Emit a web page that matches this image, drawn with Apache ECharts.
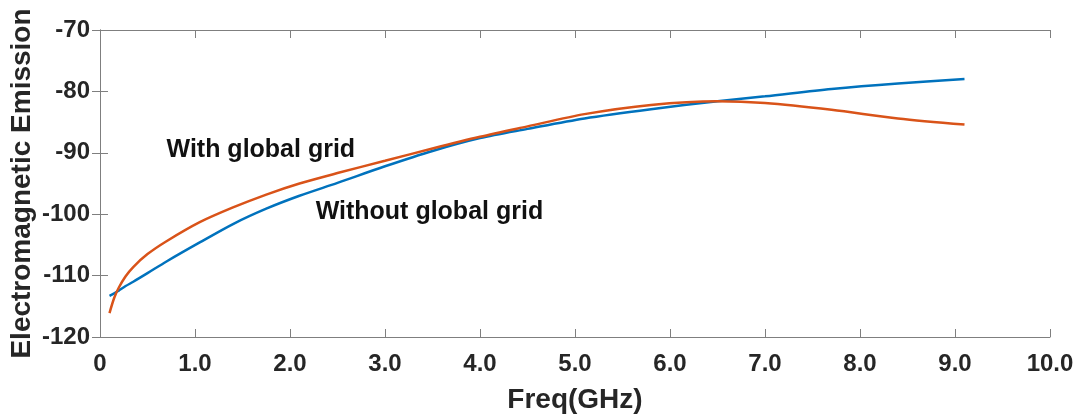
<!DOCTYPE html>
<html>
<head>
<meta charset="utf-8">
<script src="https://cdn.jsdelivr.net/npm/echarts@6/dist/echarts.min.js"></script>
<style>
  html, body { margin: 0; padding: 0; background: #fff; }
  #chart { width: 1079px; height: 415px; }
</style>
</head>
<body>
<div id="chart"></div>
<script>
// frequency points (GHz)
const freq = [0.1, 0.15, 0.2, 0.27, 0.35, 0.5, 0.7, 1.05, 1.4, 1.75, 2.1, 2.5, 3.0, 3.5, 4.0, 4.5, 5.1, 5.8, 6.5, 7.0, 7.7, 8.4, 9.1];
// without global grid (blue)
const withoutGrid = [-113.3, -112.9, -112.4, -111.7, -111.0, -109.6, -107.7, -104.6, -101.6, -99.1, -97.0, -94.9, -92.2, -89.7, -87.6, -86.1, -84.4, -82.9, -81.6, -80.8, -79.6, -78.7, -78.0];
// with global grid (orange)
const withGrid = [-116.1, -113.6, -111.9, -110.1, -108.6, -106.5, -104.4, -101.3, -98.9, -96.8, -95.0, -93.3, -91.3, -89.3, -87.4, -85.7, -83.7, -82.2, -81.6, -81.9, -83.0, -84.4, -85.4];

const xTicks = { min: 0, max: 10, interval: 1 };
const yTicks = { min: -120, max: -70, interval: 10 };

const zip = (xs, ys) => xs.map((x, i) => [x, ys[i]]);

const chart = echarts.init(document.getElementById("chart"));
const axisColor = "#7f7f7f";
const textColor = "#262626";
const font = "Liberation Sans, Arial, sans-serif";

const option = {
  animation: false,
  grid: { left: 100, right: 29, top: 30, bottom: 78, outerBoundsMode: "none", containLabel: false },
  xAxis: [
    {
      type: "value",
      min: xTicks.min, max: xTicks.max, interval: xTicks.interval,
      name: "Freq(GHz)",
      nameLocation: "middle",
      nameGap: 49,
      nameMoveOverlap: false,
      nameTextStyle: { fontFamily: font, fontWeight: "bold", fontSize: 28, color: textColor },
      axisLine: { lineStyle: { color: axisColor, width: 1 } },
      axisTick: { inside: true, length: 8, lineStyle: { color: axisColor } },
      axisLabel: {
        margin: 15, fontFamily: font, fontWeight: "bold", fontSize: 24, color: textColor,
        formatter: (v) => (v === 0 ? "0" : v.toFixed(1)),
      },
      splitLine: { show: false },
    },
    {
      type: "value", position: "top",
      min: xTicks.min, max: xTicks.max, interval: xTicks.interval,
      axisLine: { show: true, lineStyle: { color: axisColor, width: 1 } },
      axisTick: { inside: true, length: 8, lineStyle: { color: axisColor } },
      axisLabel: { show: false },
      splitLine: { show: false },
    },
  ],
  yAxis: [
    {
      type: "value",
      min: yTicks.min, max: yTicks.max, interval: yTicks.interval,
      name: "Electromagnetic Emission",
      nameLocation: "middle",
      nameGap: 64,
      nameMoveOverlap: false,
      nameTextStyle: { fontFamily: font, fontWeight: "bold", fontSize: 28, color: textColor },
      axisLine: { show: true, lineStyle: { color: axisColor, width: 1 } },
      axisTick: { show: true, inside: true, length: 8, lineStyle: { color: axisColor } },
      axisLabel: { margin: 10, fontFamily: font, fontWeight: "bold", fontSize: 24, color: textColor },
      splitLine: { show: false },
    },
    {
      type: "value", position: "right",
      min: yTicks.min, max: yTicks.max, interval: yTicks.interval,
      axisLine: { show: true, lineStyle: { color: axisColor, width: 1 } },
      axisTick: { show: true, inside: true, length: 8, lineStyle: { color: axisColor } },
      axisLabel: { show: false },
      splitLine: { show: false },
    },
  ],
  series: [
    {
      name: "Without global grid",
      type: "line",
      data: zip(freq, withoutGrid),
      smooth: 0.3,
      showSymbol: false,
      lineStyle: { color: "#0072bd", width: 2.5 },
      z: 3,
      markPoint: {
        symbol: "circle", symbolSize: 0,
        label: {
          show: true, position: "right", distance: 0,
          formatter: "Without global grid",
          fontFamily: font, fontWeight: "bold", fontSize: 25, color: "#111",
        },
        data: [{ coord: [2.27, -99.6] }],
      },
    },
    {
      name: "With global grid",
      type: "line",
      data: zip(freq, withGrid),
      smooth: 0.3,
      showSymbol: false,
      lineStyle: { color: "#d95319", width: 2.5 },
      z: 4,
      markPoint: {
        symbol: "circle", symbolSize: 0,
        label: {
          show: true, position: "right", distance: 0,
          formatter: "With global grid",
          fontFamily: font, fontWeight: "bold", fontSize: 25, color: "#111",
        },
        data: [{ coord: [0.7, -89.5] }],
      },
    },
  ],
};

chart.setOption(option);
</script>
</body>
</html>
